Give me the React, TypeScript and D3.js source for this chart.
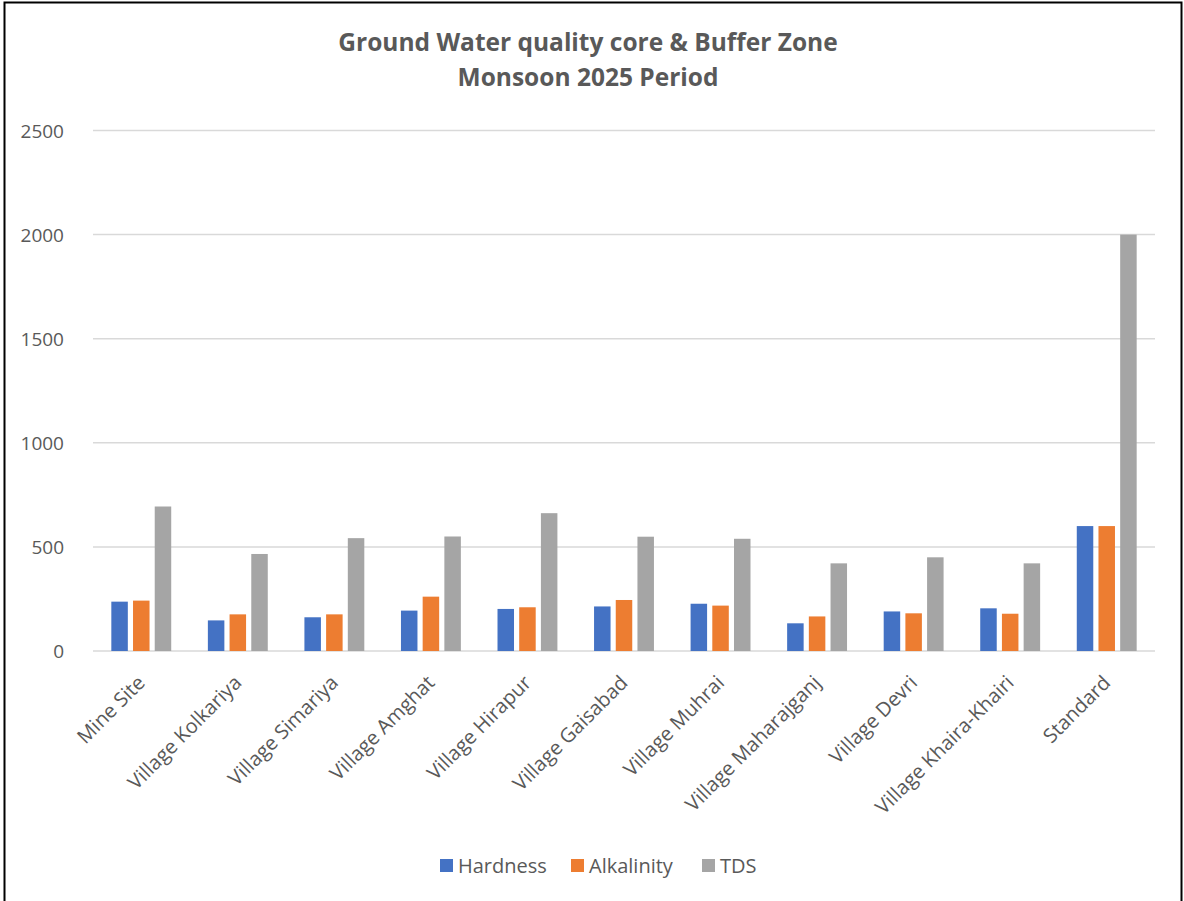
import React from "react";
import * as d3 from "d3";

const categories = [
  "Mine Site",
  "Village Kolkariya",
  "Village Simariya",
  "Village Amghat",
  "Village Hirapur",
  "Village Gaisabad",
  "Village Muhrai",
  "Village Maharajganj",
  "Village Devri",
  "Village Khaira-Khairi",
  "Standard",
];
const hardness = [237, 147, 162, 194, 202, 214, 227, 133, 190, 205, 600];
const alkalinity = [242, 176, 176, 261, 210, 245, 218, 166, 181, 179, 600];
const tds = [694, 466, 542, 550, 662, 549, 539, 421, 450, 421, 2000];
const seriesNames = ["Hardness", "Alkalinity", "TDS"];
const seriesColors = ["#4472C4", "#ED7D31", "#A5A5A5"];
const yTicks = [0, 500, 1000, 1500, 2000, 2500];

export default function App() {
  const W = 1184, H = 901;
  const left = 93, right = 1155, top = 130.5, bottom = 651;
  const x = d3.scaleBand<string>().domain(categories).range([left, right]).paddingInner(0).paddingOuter(0);
  const y = d3.scaleLinear().domain([0, 2500]).range([bottom, top]);
  const series = [hardness, alkalinity, tds];
  const bw = x.bandwidth();
  const step = 21.7;
  const barW = 16.5;
  const font = "'Open Sans', sans-serif";
  const textColor = "#595959";
  const legendX = [440, 571, 702];

  return (
    <svg width={W} height={H} style={{ position: "absolute", left: 0, top: 0, background: "#fff" }} fontFamily={font}>
      <rect x={0} y={0} width={W} height={H} fill="#fff" />
      <rect x={4.5} y={2.5} width={1177} height={910} fill="none" stroke="#000" strokeWidth={2} />
      <text x={588} y={51} textAnchor="middle" fontSize={24.5} fontWeight="bold" fill={textColor}>
        Ground Water quality core &amp; Buffer Zone
      </text>
      <text x={588} y={86} textAnchor="middle" fontSize={24.5} fontWeight="bold" fill={textColor}>
        Monsoon 2025 Period
      </text>
      {yTicks.map((t) => (
        <g key={t}>
          <line x1={left} x2={right} y1={y(t)} y2={y(t)} stroke="#D9D9D9" strokeWidth={1.5} />
          <text x={64} y={y(t) + 7} textAnchor="end" fontSize={19} fill={textColor}>
            {t}
          </text>
        </g>
      ))}
      {categories.map((c, i) => {
        const cx = (x(c) as number) + bw / 2;
        return (
          <g key={c}>
            {series.map((s, k) => (
              <rect
                key={k}
                x={cx + (k - 1) * step - barW / 2}
                y={y(s[i])}
                width={barW}
                height={y(0) - y(s[i])}
                fill={seriesColors[k]}
              />
            ))}
            <text
              transform={`translate(${cx + 5},${684}) rotate(-45)`}
              textAnchor="end"
              fontSize={20}
              fill={textColor}
            >
              {c}
            </text>
          </g>
        );
      })}
      {seriesNames.map((n, k) => (
        <g key={n}>
          <rect x={legendX[k]} y={859} width={13} height={13} fill={seriesColors[k]} />
          <text x={legendX[k] + 18} y={873} fontSize={20} fill={textColor}>
            {n}
          </text>
        </g>
      ))}
    </svg>
  );
}
